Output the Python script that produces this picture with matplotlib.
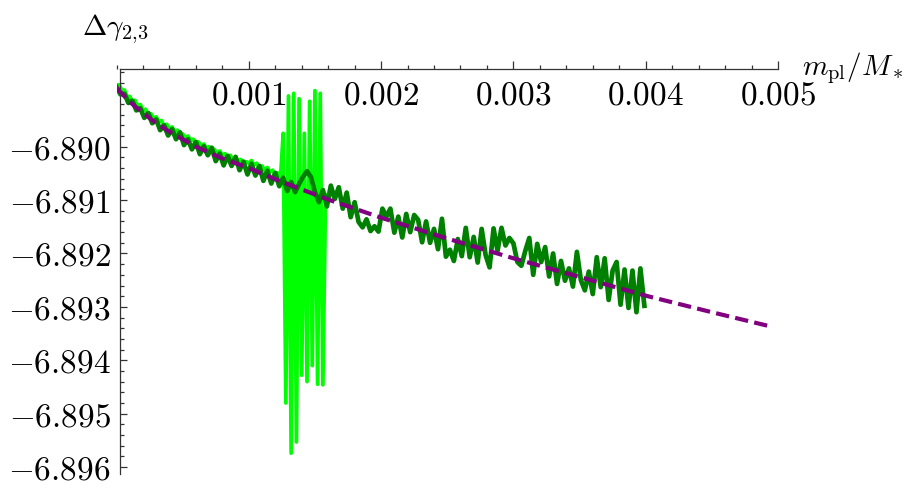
import matplotlib
matplotlib.use('Agg')
import matplotlib.pyplot as plt
from matplotlib.ticker import MultipleLocator, FixedLocator, FuncFormatter
import numpy as np

plt.rcParams['mathtext.fontset'] = 'cm'
plt.rcParams['font.family'] = ['DejaVu Serif']

PURPLE, DARK, LIGHT = '#800080', '#008000', '#00ff00'
AXIS = '#333333'

# fitted curve (dashed)
fit_x = [0.0, 0.0001, 0.0002, 0.0003, 0.0004, 0.0006, 0.0008, 0.0010, 0.0012,
         0.0014, 0.0016, 0.0020, 0.0025, 0.0030, 0.0035, 0.0040, 0.0045, 0.00495]
fit_y = [-6.88890, -6.88916, -6.88937, -6.88956, -6.88972, -6.89000, -6.89022,
         -6.89040, -6.89061, -6.89080, -6.89099, -6.89133, -6.89172, -6.89209,
         -6.89244, -6.89279, -6.89310, -6.89337]

# dark green series, step 3e-5
dark_step = 0.00003
dark_y = [
    -6.88888, -6.88902, -6.88901, -6.88918, -6.88914, -6.88932, -6.88928, -6.88946, -6.88937, -6.88956,
    -6.88949, -6.88969, -6.88960, -6.88979, -6.88967, -6.88986, -6.88973, -6.88997, -6.88986, -6.89005,
    -6.88991, -6.89014, -6.88999, -6.89016, -6.89002, -6.89027, -6.89013, -6.89035, -6.89017, -6.89036,
    -6.89019, -6.89044, -6.89028, -6.89052, -6.89032, -6.89054, -6.89036, -6.89064, -6.89045, -6.89069,
    -6.89049, -6.89074, -6.89058, -6.89083, -6.89066, -6.89085, -6.89070, -6.89056, -6.89046, -6.89057,
    -6.89085, -6.89104, -6.89081, -6.89112, -6.89073, -6.89098, -6.89076, -6.89116, -6.89086, -6.89132,
    -6.89104, -6.89141, -6.89151, -6.89136, -6.89158, -6.89149, -6.89159, -6.89116, -6.89131, -6.89116,
    -6.89161, -6.89131, -6.89170, -6.89126, -6.89160, -6.89128, -6.89137, -6.89179, -6.89140, -6.89180,
    -6.89154, -6.89192, -6.89135, -6.89206, -6.89193, -6.89214, -6.89173, -6.89205, -6.89152, -6.89207,
    -6.89169, -6.89217, -6.89154, -6.89203, -6.89226, -6.89153, -6.89195, -6.89152, -6.89185, -6.89171,
    -6.89181, -6.89216, -6.89223, -6.89195, -6.89171, -6.89240, -6.89182, -6.89216, -6.89188, -6.89243,
    -6.89200, -6.89257, -6.89214, -6.89251, -6.89228, -6.89262, -6.89197, -6.89250, -6.89269, -6.89234,
    -6.89276, -6.89207, -6.89263, -6.89209, -6.89287, -6.89232, -6.89216, -6.89296, -6.89230, -6.89302,
    -6.89232, -6.89310, -6.89228, -6.89298,
]

# light green series, step 2e-5
light_step = 0.00002
light_y = [
    -6.88885, -6.88884, -6.88894, -6.88894, -6.88906, -6.88906, -6.88916, -6.88913, -6.88923, -6.88921,
    -6.88932, -6.88930, -6.88941, -6.88938, -6.88947, -6.88944, -6.88953, -6.88951, -6.88962, -6.88958,
    -6.88967, -6.88963, -6.88972, -6.88969, -6.88979, -6.88976, -6.88984, -6.88980, -6.88988, -6.88986,
    -6.88996, -6.88991, -6.88999, -6.88995, -6.89003, -6.89000, -6.89009, -6.89005, -6.89013, -6.89008,
    -6.89016, -6.89013, -6.89022, -6.89016, -6.89024, -6.89019, -6.89027, -6.89024, -6.89032, -6.89028,
    -6.89031, -6.89026, -6.89034, -6.89031, -6.89040, -6.89036, -6.89044, -6.89039, -6.89047, -6.89044,
    -6.89053, -6.89049, -6.89056, -6.88975, -6.89480, -6.88905, -6.89574, -6.88900, -6.89553, -6.88910,
    -6.89428, -6.88975, -6.89440, -6.88915, -6.89410, -6.88895, -6.89445, -6.88900, -6.89446, -6.89090,
]

x_major = [0.001, 0.002, 0.003, 0.004, 0.005]
y_major = [-6.890, -6.891, -6.892, -6.893, -6.894, -6.895, -6.896]

XMIN, XMAX = 0.0, 0.005
YMIN, YMAX = -6.89613, -6.888545
X_ORIGIN = 0.00003

W, H = 913, 492
fig = plt.figure(figsize=(W / 100, H / 100), dpi=100)
ax = fig.add_axes([116.5 / W, 1 - 474 / H, (778 - 116.5) / W, (474 - 69) / H])

dark_x = np.arange(len(dark_y)) * dark_step
light_x = np.arange(len(light_y)) * light_step

ax.plot(light_x, light_y, color=LIGHT, lw=2.7, zorder=2)
ax.plot(dark_x, dark_y, color=DARK, lw=3.4, zorder=3)
ax.plot(fit_x, fit_y, color=PURPLE, lw=3.0, dashes=(3.2, 1.5), zorder=4)

ax.set_xlim(XMIN, XMAX)
ax.set_ylim(YMIN, YMAX)

for s in ('right', 'bottom'):
    ax.spines[s].set_visible(False)
ax.spines['left'].set_position(('data', X_ORIGIN))
ax.spines['top'].set_bounds(X_ORIGIN, XMAX)
for s in ('left', 'top'):
    ax.spines[s].set_color(AXIS)
    ax.spines[s].set_linewidth(0.9)

ax.xaxis.set_ticks_position('top')
ax.xaxis.set_major_locator(FixedLocator(x_major))
ax.xaxis.set_minor_locator(MultipleLocator(0.0002))
ax.xaxis.set_major_formatter(FuncFormatter(lambda v, p: f'${v:.3f}$'))
ax.tick_params(axis='x', which='major', direction='out', length=5.5, width=0.9,
               color=AXIS, labelsize=24, pad=-36)
ax.tick_params(axis='x', which='minor', direction='out', length=3, width=0.9, color=AXIS)

ax.yaxis.set_major_locator(FixedLocator(y_major))
ax.yaxis.set_minor_locator(MultipleLocator(0.0002))
ax.yaxis.set_major_formatter(FuncFormatter(lambda v, p: f'${v:.3f}$'))
ax.tick_params(axis='y', which='major', direction='in', length=5, width=0.9,
               color=AXIS, labelsize=24, pad=7)
ax.tick_params(axis='y', which='minor', direction='in', length=3, width=0.9, color=AXIS)

fig.text(81.7 / W, 1 - 35 / H, r'$\Delta\gamma_{2{,}3}$', fontsize=21, va='baseline', ha='left')
fig.text(801.7 / W, 1 - 75 / H, r'$m_{\rm pl}/M_*$', fontsize=21, va='baseline', ha='left')

fig.savefig('out.png', dpi=100)
